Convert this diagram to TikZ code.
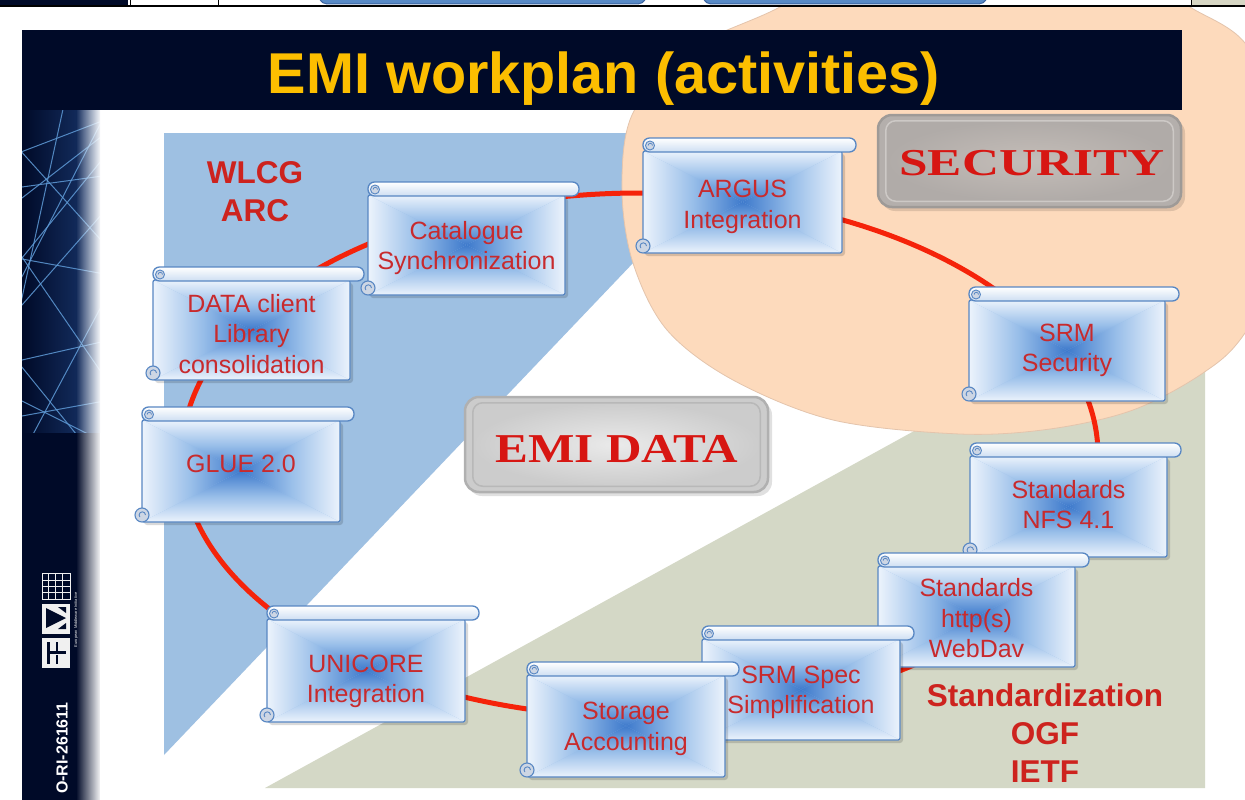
\documentclass[tikz,border=0pt]{standalone}
\usepackage{fontspec}
\usepackage{graphicx}
\setmainfont{Liberation Sans}
\newfontfamily\plaquefont{Liberation Serif}
\usetikzlibrary{fadings}

\definecolor{navy}{RGB}{0,10,40}
\definecolor{navylight}{RGB}{25,55,110}
\definecolor{wlcgblue}{RGB}{158,192,226}
\definecolor{khaki}{RGB}{212,216,198}
\definecolor{peach}{RGB}{253,218,188}
\definecolor{peachline}{RGB}{228,196,172}
\definecolor{ringred}{RGB}{245,35,10}
\definecolor{labelred}{RGB}{205,35,30}
\definecolor{scrolltext}{RGB}{200,42,45}
\definecolor{scredge}{RGB}{236,243,252}
\definecolor{scmid}{RGB}{152,190,233}
\definecolor{sccenter}{RGB}{62,122,204}
\definecolor{scborder}{RGB}{88,135,195}
\definecolor{rollshade}{RGB}{205,222,242}
\definecolor{curlfill}{RGB}{205,214,228}
\definecolor{titlegold}{RGB}{252,190,0}
\definecolor{meshblue}{RGB}{95,155,215}
\definecolor{plaquered}{RGB}{215,22,18}
\definecolor{secfill}{RGB}{180,175,172}
\definecolor{secline}{RGB}{158,154,151}
\definecolor{secinner}{RGB}{196,189,184}
\definecolor{secouter}{RGB}{176,171,168}
\definecolor{secedge}{RGB}{205,201,198}
\definecolor{datafill}{RGB}{204,204,204}
\definecolor{dataline}{RGB}{176,176,176}
\definecolor{datainner}{RGB}{234,234,234}
\definecolor{dataedge}{RGB}{184,184,184}
\definecolor{tabblue}{RGB}{88,138,198}
\definecolor{tabline}{RGB}{60,100,160}
\definecolor{tabgrey}{RGB}{214,214,196}

\tikzset{
  scrollbody/.style={draw=scborder, line width=1.3pt, rounded corners=2pt,
    inner sep=0pt, outer sep=0pt},
  scrolllabel/.style={inner sep=0pt, text=scrolltext, align=center,
    font=\fontsize{25}{30.5}\selectfont},
  ring/.style={draw=ringred, line width=5pt},
  bigred/.style={text=labelred, align=center,
    font=\bfseries\fontsize{31.5}{38}\selectfont},
  plaque/.style={rounded corners=14pt, line width=2.5pt, inner sep=0pt},
  plaquetext/.style={text=plaquered, inner sep=0pt, anchor=base},
  tab/.style={fill=tabblue, draw=tabline, line width=1pt, rounded corners=5pt},
}

% scroll-shaped activity box:
% name, body left, roll top, body right, body bottom, text shift, text
\newcommand\scrollbox[7]{%
  \pgfmathsetmacro\sL{#2}%
  \pgfmathsetmacro\sT{#3+13}%
  \pgfmathsetmacro\sR{#4}%
  \pgfmathsetmacro\sB{#5}%
  \pgfmathsetmacro\sX{(\sL+\sR)/2}%
  \pgfmathsetmacro\sY{(\sT+\sB)/2}%
  \pgfmathsetmacro\sW{\sR-\sL}%
  \pgfmathsetmacro\sH{\sB-\sT}%
  \fill[black, opacity=0.15, rounded corners=3pt] (\sL+2,\sT+3) rectangle (\sR+3,\sB+3);
  \fill[scmid] (\sL,\sT) rectangle (\sR,\sB);
  \shade[top color=scredge, bottom color=sccenter, middle color=scmid]
    (\sL,\sT) -- (\sR,\sT) -- (\sX,\sY) -- cycle;
  \shade[top color=sccenter, bottom color=scredge, middle color=scmid]
    (\sL,\sB) -- (\sR,\sB) -- (\sX,\sY) -- cycle;
  \shade[left color=scredge, right color=sccenter, middle color=scmid]
    (\sL,\sT) -- (\sL,\sB) -- (\sX,\sY) -- cycle;
  \shade[left color=sccenter, right color=scredge, middle color=scmid]
    (\sR,\sT) -- (\sR,\sB) -- (\sX,\sY) -- cycle;
  \node[scrollbody, minimum width=\sW pt, minimum height=\sH pt] (#1) at (\sX,\sY) {};
  \node[scrolllabel] (#1-label) at (\sX,\sY+#6) {#7};
  % rolled top edge
  \shadedraw[top color=white, bottom color=rollshade, draw=scborder,
    line width=1.3pt, rounded corners=6.5pt] (\sL,#3) rectangle (\sR+14,#3+14);
  \filldraw[fill=curlfill, draw=scborder, line width=0.9pt] (\sL+7,#3+7.5) circle (4.5pt);
  \draw[scborder, line width=0.8pt] (\sL+9.5,#3+7.5) arc[start angle=0, end angle=180, radius=2.2pt];
  % rolled bottom-left corner
  \filldraw[fill=curlfill, draw=scborder, line width=1.1pt] (\sL,\sB-7) circle (7pt);
  \draw[scborder, line width=0.9pt] (\sL+3.5,\sB-7) arc[start angle=0, end angle=220, radius=3.2pt];
}

\begin{document}
\begin{tikzpicture}[x=1pt, y=-1pt]
\useasboundingbox (0,0) rectangle (1245,800);
\clip (0,0) rectangle (1245,800);
\fill[white] (0,0) rectangle (1245,800);

% coloured areas of the slide
\fill[wlcgblue] (164,133) -- (757,133) -- (164,755) -- cycle;
\fill[khaki] (265,788) -- (1205,271) -- (1205,788) -- cycle;
\filldraw[fill=peach, draw=peachline, line width=0.8pt]
  plot[smooth cycle, tension=0.55] coordinates {
    (770,12) (860,-30) (1010,-50) (1150,-20) (1190,7) (1245,43) (1285,125)
    (1298,235) (1245,333) (1203,373) (1133,410) (1050,429) (960,434)
    (833,420) (733,380) (667,330) (633,263) (622,190) (632,115) (685,52)};

% side bar with mesh
\fill[navy] (22,110) rectangle (100,800);
\shade[left color=navy, right color=navylight] (22,110) rectangle (100,432);
\begin{scope}
  \clip (22,110) rectangle (100,432);
  \foreach \xa/\ya/\xb/\yb in {0/160/110/118, 0/215/110/130, 0/128/110/250,
      10/300/110/105, 0/330/110/205, 0/255/110/275, 30/440/110/290,
      0/365/110/340, 0/420/110/400, 0/390/110/445, 65/100/15/330,
      0/225/110/385, 0/340/85/445, 0/190/110/175, 0/285/110/150}
    \draw[meshblue, line width=1pt, opacity=0.85] (\xa,\ya) -- (\xb,\yb);
\end{scope}
\fill[white, path fading=west] (76,108) rectangle (101,800);

% logo
\begin{scope}[white!88!gray]
  \draw[line width=1pt] (42,573) rectangle (70,599);
  \foreach \k in {48,55,62} \draw[line width=1pt] (\k,573) -- (\k,599);
  \foreach \k in {580,586,592} \draw[line width=1pt] (42,\k) -- (70,\k);
  \fill (42,604) rectangle (70,634);
  \fill (42,638) rectangle (70,668);
\end{scope}
\fill[navy] (46,608) -- (66,618) -- (46,628) -- cycle;
\fill[navy] (58,607) -- (66,607) -- (66,613) -- cycle;
\fill[navy] (58,629) -- (66,629) -- (66,623) -- cycle;
\fill[navy] (47,642) rectangle (50,664);
\fill[navy] (50,651) rectangle (66,654);
\fill[navy] (56,642) rectangle (58,651);
\fill[navy] (56,655) rectangle (58,664);
\node[rotate=90, text=white!85!gray, font=\fontsize{4}{4}\selectfont, inner sep=0pt]
  (logotext) at (76,620) {European Middleware Initiative};
\node[rotate=90, anchor=east, text=white, font=\bfseries\fontsize{16}{16}\selectfont, inner sep=0pt]
  (grant) at (62,702) {O-RI-261611};

% title bar
\fill[navy] (22,30) rectangle (1182,110);
\node[anchor=base, text=titlegold, font=\bfseries\fontsize{57.6}{69}\selectfont, inner sep=0pt]
  (title) at (604,93) {EMI workplan (activities)};

% ring of activities
\draw[ring] (640,455) ellipse [x radius=458, y radius=262];

\scrollbox{cat}{368}{182}{565}{295}{3}{Catalogue\\Synchronization}
\scrollbox{argus}{643}{138}{842}{253}{5}{ARGUS\\Integration}
\scrollbox{srmsec}{969}{287}{1165}{401}{0}{SRM\\Security}
\scrollbox{nfs}{970}{443}{1167}{557}{-2}{Standards\\NFS 4.1}
\scrollbox{http}{878}{553}{1075}{667}{2}{Standards\\http(s)\\WebDav}
\scrollbox{spec}{702}{626}{900}{740}{3}{SRM Spec\\Simplification}
\scrollbox{sto}{527}{662}{725}{777}{3}{Storage\\Accounting}
\scrollbox{uni}{267}{606}{465}{722}{11}{UNICORE\\Integration}
\scrollbox{glue}{142}{407}{340}{522}{-7}{GLUE 2.0}
\scrollbox{data}{153}{267}{350}{380}{4}{DATA client\\Library\\consolidation}

% area labels
\node[bigred] (wlcg) at (255,192) {WLCG\\ARC};
\node[bigred] (stdz) at (1045,733) {Standardization\\OGF\\IETF};

% grey plaques
\fill[black, opacity=0.12, rounded corners=14pt] (881,119) rectangle (1185,211);
\node[plaque, fill=secfill, draw=secline,
  minimum width=303pt, minimum height=92pt] (secbox) at (1029.5,161) {};
\shade[rounded corners=10pt, inner color=secinner, outer color=secouter]
  ([shift={(9,7)}]secbox.north west) rectangle ([shift={(-9,-7)}]secbox.south east);
\draw[rounded corners=10pt, line width=1.5pt, secedge]
  ([shift={(9,7)}]secbox.north west) rectangle ([shift={(-9,-7)}]secbox.south east);
\node[plaquetext] (sectext) at (1032,175)
  {\scalebox{1.35}[1]{\plaquefont\bfseries\fontsize{38}{38}\selectfont SECURITY}};

\fill[black, opacity=0.12, rounded corners=14pt] (468,401) rectangle (772,496);
\node[plaque, fill=datafill, draw=dataline,
  minimum width=303pt, minimum height=95pt] (databox) at (616.5,444.5) {};
\shade[rounded corners=10pt, inner color=datainner, outer color=datafill]
  ([shift={(9,7)}]databox.north west) rectangle ([shift={(-9,-7)}]databox.south east);
\draw[rounded corners=10pt, line width=1.5pt, dataedge]
  ([shift={(9,7)}]databox.north west) rectangle ([shift={(-9,-7)}]databox.south east);
\node[plaquetext] (datatext) at (617,462)
  {\scalebox{1.2}[1]{\plaquefont\bfseries\fontsize{41}{41}\selectfont EMI DATA}};

% strip along the top edge
\fill[white] (0,0) rectangle (1245,7);
\fill[navy] (0,0) rectangle (128,5);
\filldraw[tab] (310,-20) -- (655,-20) -- (643,4) -- (322,4) -- cycle;
\filldraw[tab] (694,-20) -- (996,-20) -- (984,4) -- (706,4) -- cycle;
\fill[tabgrey] (1191,0) rectangle (1245,5);
\draw[black, line width=0.8pt] (130,0) -- (130,6) (218,0) -- (218,6) (1191,0) -- (1191,6);
\draw[black, line width=2pt] (0,6) -- (1245,6);
\end{tikzpicture}
\end{document}
